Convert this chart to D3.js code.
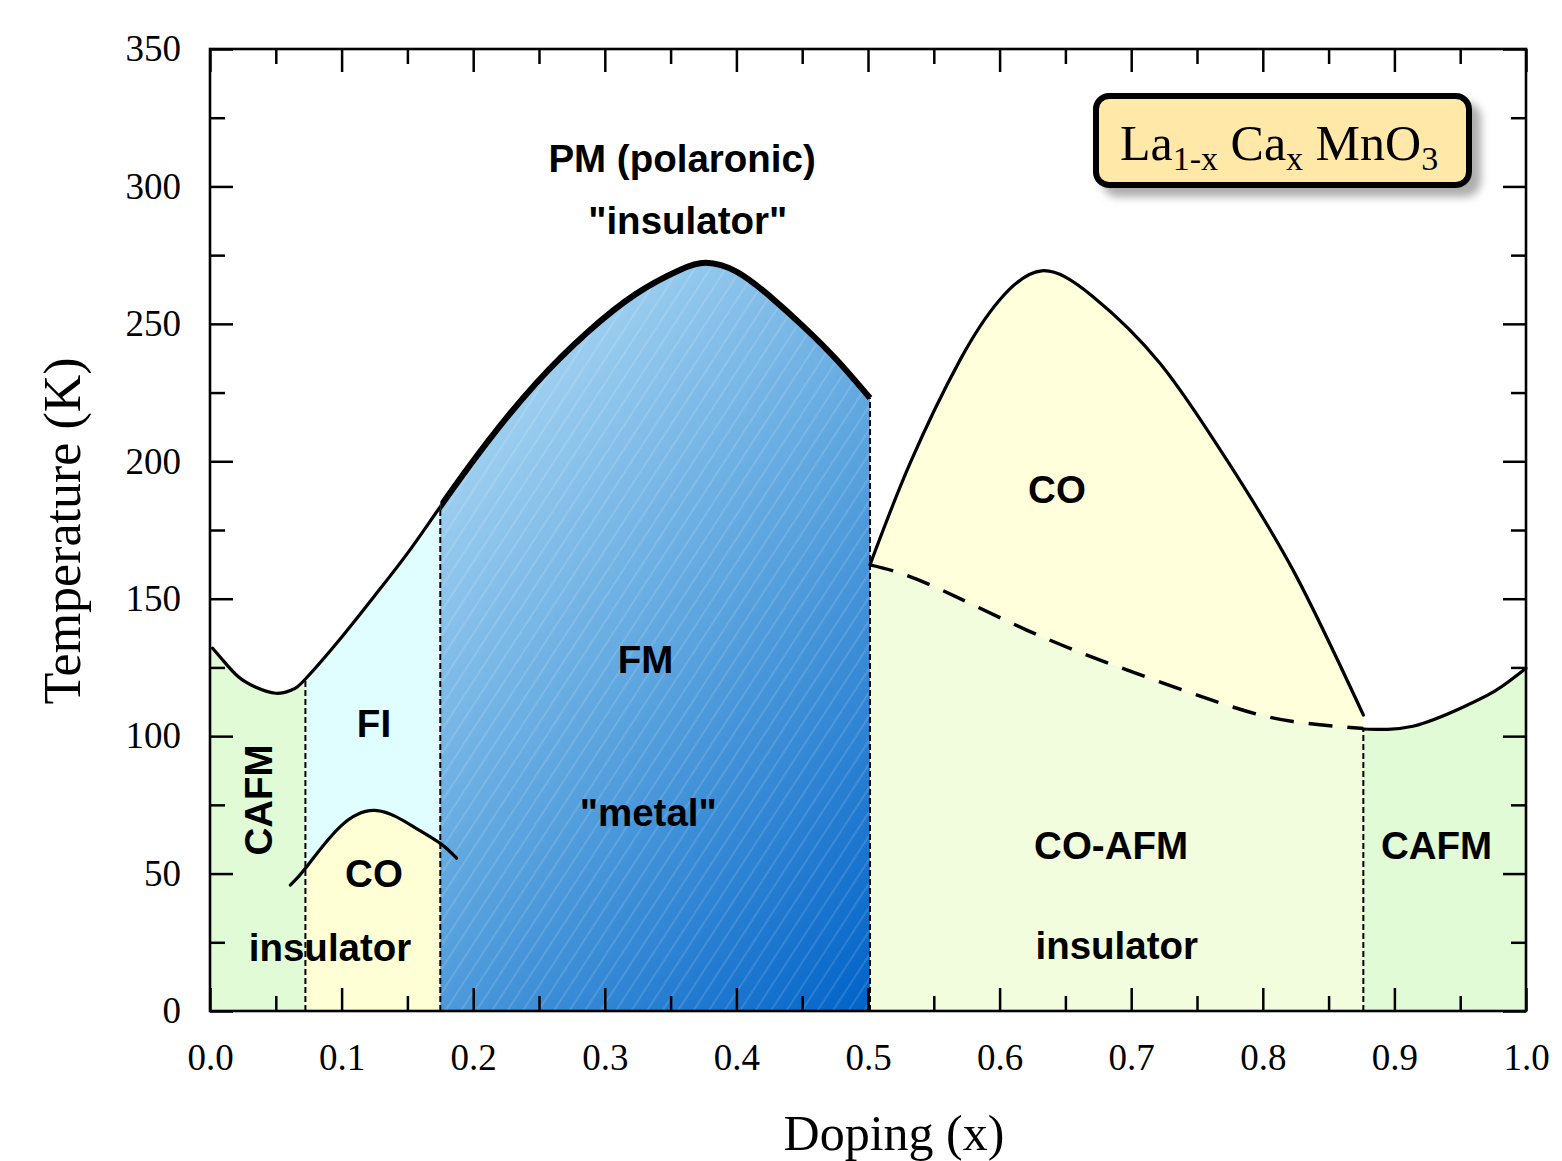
<!DOCTYPE html>
<html>
<head>
<meta charset="utf-8">
<script src="https://cdn.jsdelivr.net/npm/d3@7"></script>
<style>
  html, body { margin: 0; padding: 0; background: #fff; }
  svg { display: block; }
</style>
</head>
<body>
<div id="chart"></div>
<script>
// phase boundaries of La(1-x)Ca(x)MnO3: [doping x, temperature K]
const upperBoundary = [
  [0.002, 132], [0.01, 127.5], [0.0215, 121.6], [0.034, 118], [0.05, 115.6], [0.062, 116.8],
  [0.0725, 120.8], [0.1, 136], [0.125, 151], [0.15, 166.5], [0.175, 183.5], [0.21, 206.5],
  [0.248, 228.5], [0.286, 246.6], [0.324, 261], [0.357, 269.6], [0.377, 272.2], [0.40, 269],
  [0.4255, 260], [0.451, 249], [0.476, 237], [0.5015, 223]
];
const smallCO = [
  [0.061, 45.8], [0.0735, 52.5], [0.099, 67.1], [0.127, 72.9], [0.1545, 67.1], [0.175, 61], [0.1874, 55.6]
];
const bigCO = [
  [0.5015, 162.3], [0.532, 199.3], [0.570, 236.9], [0.600, 258.7], [0.632, 269.3], [0.671, 259.9],
  [0.722, 235.6], [0.7726, 200.5], [0.823, 160.4], [0.8764, 107.7]
];
const coAfmLine = [
  [0.5015, 162.3], [0.5446, 155.6], [0.6206, 138.6], [0.6966, 124.1], [0.7726, 111.3], [0.823, 105.3], [0.8764, 102.8]
];
const cafmRight = [
  [0.8764, 102.6], [0.914, 103.6], [0.952, 110.5], [0.9777, 116.8], [1.0, 124.7]
];

// vertical phase dividers
const dividerX = [0.0725, 0.175, 0.5015, 0.8764];
const dividerTop = [120.8, 183.5, 223, 102.8];

// region labels, anchored in data units
const labelText = ["PM (polaronic)", "\"insulator\"", "CO", "FM", "\"metal\"", "FI", "CO", "insulator", "CAFM", "CO-AFM", "insulator", "CAFM"];
const labelX    = [0.3587, 0.363, 0.6436, 0.331, 0.333, 0.1246, 0.1246, 0.0912, 0.0365, 0.6847, 0.689, 0.932];
const labelT    = [310.3, 287.8, 190, 128, 72.4, 104.8, 50.2, 23.3, 76.8, 60.4, 24, 60.4];
const labelVertical = [false, false, false, false, false, false, false, false, true, false, false, false];

const xMajor = d3.range(0, 1.0001, 0.1);
const xMinor = d3.range(0.05, 1, 0.1);
const yMajor = d3.range(0, 351, 50);
const yMinor = d3.range(25, 350, 50);

const width = 1562, height = 1161;
const plotLeft = 210, plotRight = 1526, plotTop = 49, plotBottom = 1011;

const x = d3.scaleLinear([0, 1], [plotLeft, plotRight]);
const y = d3.scaleLinear([0, 350], [plotBottom, plotTop]);

const svg = d3.select("#chart").append("svg")
    .attr("width", width)
    .attr("height", height);

const defs = svg.append("defs");

const grad = defs.append("linearGradient")
    .attr("id", "fmGrad")
    .attr("x1", 0).attr("y1", 0).attr("x2", 1).attr("y2", 1);
grad.append("stop").attr("offset", 0).attr("stop-color", "#e4f4fd");
grad.append("stop").attr("offset", 0.3).attr("stop-color", "#a3d2f1");
grad.append("stop").attr("offset", 0.6).attr("stop-color", "#5ea6df");
grad.append("stop").attr("offset", 1).attr("stop-color", "#0062c8");

const hatch = defs.append("pattern")
    .attr("id", "hatch")
    .attr("patternUnits", "userSpaceOnUse")
    .attr("width", 13).attr("height", 13)
    .attr("patternTransform", "rotate(33)");
hatch.append("line")
    .attr("x1", 1).attr("y1", 0).attr("x2", 1).attr("y2", 13)
    .attr("stroke", "#fff").attr("stroke-opacity", 0.25).attr("stroke-width", 1);

const shadow = defs.append("filter").attr("id", "shadow")
    .attr("x", "-10%").attr("y", "-20%").attr("width", "130%").attr("height", "160%");
shadow.append("feDropShadow")
    .attr("dx", 9).attr("dy", 9).attr("stdDeviation", 4)
    .attr("flood-color", "#777").attr("flood-opacity", 0.6);

// clip rects spanning x ranges
function clipX(id, x0, x1) {
  defs.append("clipPath").attr("id", id)
    .append("rect")
      .attr("x", x(x0)).attr("y", 0)
      .attr("width", x(x1) - x(x0)).attr("height", plotBottom);
  return `url(#${id})`;
}
const clipCafmL = clipX("cCafmL", 0, dividerX[0]);
const clipFI = clipX("cFI", dividerX[0], dividerX[1]);
const clipFM = clipX("cFM", dividerX[1], dividerX[2]);
const clipThin = clipX("cThin", -0.01, dividerX[1]);
const clipThick = clipX("cThick", dividerX[1], dividerX[2] + 0.01);

const curve = d3.curveNatural;
const area = d3.area().x(d => x(d[0])).y0(y(0)).y1(d => y(d[1])).curve(curve);
const line = d3.line().x(d => x(d[0])).y(d => y(d[1])).curve(curve);

// the left green fill reaches the axis
const upperFill = [[0, 133]].concat(upperBoundary);

const fills = svg.append("g");
fills.append("path").attr("d", area(upperFill)).attr("fill", "#e1fbd6").attr("clip-path", clipCafmL);
fills.append("path").attr("d", area(upperBoundary)).attr("fill", "#e0fdff").attr("clip-path", clipFI);
fills.append("path").attr("d", area(smallCO)).attr("fill", "#ffffd6").attr("clip-path", clipFI);
fills.append("path").attr("d", area(upperBoundary)).attr("fill", "url(#fmGrad)").attr("clip-path", clipFM);
fills.append("path").attr("d", area(upperBoundary)).attr("fill", "url(#hatch)").attr("clip-path", clipFM);
fills.append("path").attr("d", area(bigCO)).attr("fill", "#ffffdb");
fills.append("path").attr("d", area(coAfmLine)).attr("fill", "#f1fddc");
fills.append("path").attr("d", area(cafmRight)).attr("fill", "#e1fbd6");

// vertical dashed dividers
svg.append("g").selectAll("line")
  .data(dividerX)
  .join("line")
    .attr("x1", d => x(d)).attr("x2", d => x(d))
    .attr("y1", y(0)).attr("y2", (d, i) => y(dividerTop[i]))
    .attr("stroke", "#000").attr("stroke-width", 2)
    .attr("stroke-dasharray", "6,3");

const lines = svg.append("g").attr("fill", "none").attr("stroke", "#000").attr("stroke-linecap", "round");
lines.append("path").attr("d", line(upperBoundary)).attr("stroke-width", 3.2).attr("clip-path", clipThin);
lines.append("path").attr("d", line(upperBoundary)).attr("stroke-width", 6).attr("stroke-linecap", "butt").attr("clip-path", clipThick);
lines.append("path").attr("d", line(smallCO)).attr("stroke-width", 3.2);
lines.append("path").attr("d", line(bigCO)).attr("stroke-width", 3.2);
lines.append("path").attr("d", line(coAfmLine)).attr("stroke-width", 3.5)
    .attr("stroke-dasharray", "24,15").attr("stroke-linecap", "butt");
lines.append("path").attr("d", line(cafmRight)).attr("stroke-width", 3.2);

// axes: ticks inward on all four sides
const tickFont = "'Liberation Serif', 'Times New Roman', serif";
function styleAxis(g) {
  g.select(".domain").remove();
  g.selectAll(".tick line").attr("stroke", "#000").attr("stroke-width", 2.5);
  g.selectAll("text").attr("font-family", tickFont).attr("font-size", 37).attr("fill", "#000");
}
svg.append("g").attr("transform", `translate(0,${plotBottom})`)
    .call(d3.axisBottom(x).tickValues(xMajor).tickSize(-23).tickPadding(33).tickFormat(d3.format(".1f")))
    .call(styleAxis);
svg.append("g").attr("transform", `translate(0,${plotBottom})`)
    .call(d3.axisBottom(x).tickValues(xMinor).tickSize(-15).tickFormat(""))
    .call(styleAxis);
svg.append("g").attr("transform", `translate(0,${plotTop})`)
    .call(d3.axisTop(x).tickValues(xMajor).tickSize(-23).tickFormat(""))
    .call(styleAxis);
svg.append("g").attr("transform", `translate(0,${plotTop})`)
    .call(d3.axisTop(x).tickValues(xMinor).tickSize(-15).tickFormat(""))
    .call(styleAxis);
svg.append("g").attr("transform", `translate(${plotLeft},0)`)
    .call(d3.axisLeft(y).tickValues(yMajor).tickSize(-23).tickPadding(29).tickFormat(d3.format("d")))
    .call(styleAxis);
svg.append("g").attr("transform", `translate(${plotLeft},0)`)
    .call(d3.axisLeft(y).tickValues(yMinor).tickSize(-15).tickFormat(""))
    .call(styleAxis);
svg.append("g").attr("transform", `translate(${plotRight},0)`)
    .call(d3.axisRight(y).tickValues(yMajor).tickSize(-23).tickFormat(""))
    .call(styleAxis);
svg.append("g").attr("transform", `translate(${plotRight},0)`)
    .call(d3.axisRight(y).tickValues(yMinor).tickSize(-15).tickFormat(""))
    .call(styleAxis);

// frame
svg.append("rect")
    .attr("x", plotLeft).attr("y", plotTop)
    .attr("width", plotRight - plotLeft).attr("height", plotBottom - plotTop)
    .attr("fill", "none").attr("stroke", "#000").attr("stroke-width", 2.6);

// axis titles
svg.append("text")
    .attr("x", (plotLeft + plotRight) / 2 + 26).attr("y", 1150)
    .attr("text-anchor", "middle")
    .attr("font-family", tickFont).attr("font-size", 50)
    .text("Doping (x)");
svg.append("text")
    .attr("transform", `translate(80,${(plotTop + plotBottom) / 2 + 1}) rotate(-90)`)
    .attr("text-anchor", "middle")
    .attr("font-family", tickFont).attr("font-size", 52)
    .text("Temperature (K)");

// region labels
svg.append("g")
    .attr("font-family", "'Liberation Sans', Arial, sans-serif")
    .attr("font-weight", "bold").attr("font-size", 38.5)
  .selectAll("text")
  .data(labelText)
  .join("text")
    .attr("transform", (d, i) => `translate(${x(labelX[i])},${y(labelT[i])})` + (labelVertical[i] ? " rotate(-90)" : ""))
    .attr("text-anchor", "middle")
    .attr("dy", "0.36em")
    .text(d => d);

// compound label box
const box = svg.append("g");
box.append("rect")
    .attr("x", 1096).attr("y", 96).attr("width", 373).attr("height", 89)
    .attr("rx", 13)
    .attr("fill", "#ffe8a8").attr("stroke", "#000").attr("stroke-width", 6)
    .attr("filter", "url(#shadow)");
const formula = box.append("text")
    .attr("x", 1120).attr("y", 160)
    .attr("font-family", tickFont).attr("font-size", 50);
formula.append("tspan").text("La");
formula.append("tspan").attr("font-size", 34).attr("dy", 10).text("1-x");
formula.append("tspan").attr("dy", -10).text(" Ca");
formula.append("tspan").attr("font-size", 34).attr("dy", 10).text("x");
formula.append("tspan").attr("dy", -10).text(" MnO");
formula.append("tspan").attr("font-size", 34).attr("dy", 10).text("3");
</script>
</body>
</html>
